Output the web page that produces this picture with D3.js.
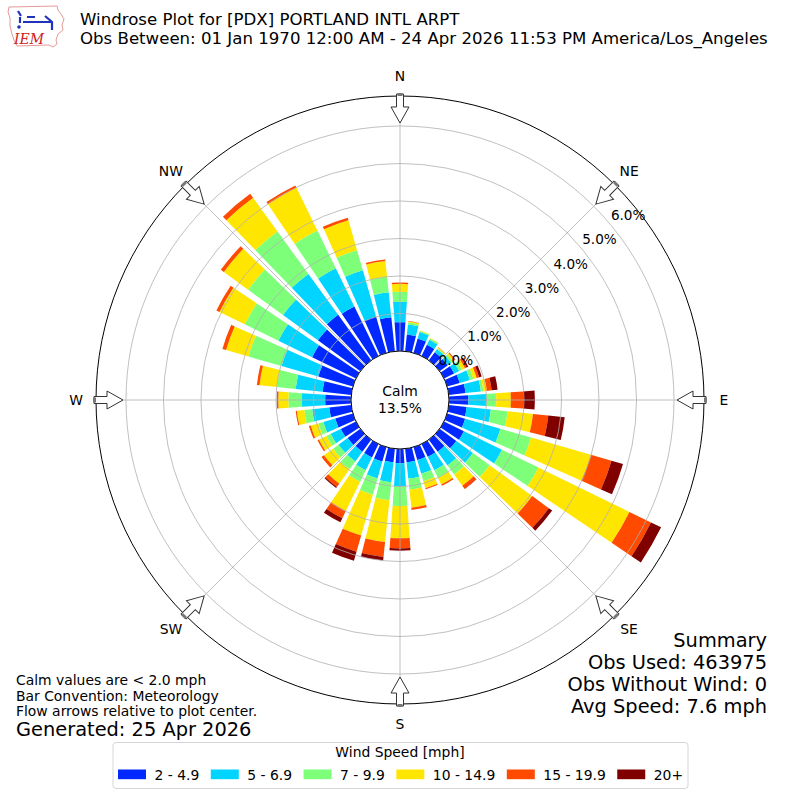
<!DOCTYPE html>
<html>
<head>
<meta charset="utf-8">
<script src="https://cdn.jsdelivr.net/npm/d3@7"></script>
<style>
  body { margin: 0; background: #fff; }
  svg { display: block; font-family: "DejaVu Sans", sans-serif; }
</style>
</head>
<body>
<div id="chart"></div>
<script>
// direction bins (degrees, meteorological: where wind comes from)
const directions = [0, 10, 20, 30, 40, 50, 60, 70, 80, 90, 100, 110, 120, 130, 140, 150, 160, 170,
  180, 190, 200, 210, 220, 230, 240, 250, 260, 270, 280, 290, 300, 310, 320, 330, 340, 350];

const speedBins = ["2 - 4.9", "5 - 6.9", "7 - 9.9", "10 - 14.9", "15 - 19.9", "20+"];
const binColors = ["#0028ff", "#00d4ff", "#7dff7a", "#ffe600", "#ff4a00", "#800000"];

// percent of observations per direction, one array per speed bin
const spd2to5 = [0.77, 0.45, 0.40, 0.33, 0.27, 0.27, 0.30, 0.35, 0.45, 0.52, 0.48, 0.50, 0.59, 0.55, 0.40, 0.38, 0.36, 0.36,
  0.38, 0.36, 0.40, 0.40, 0.40, 0.42, 0.45, 0.49, 0.59, 0.69, 0.77, 0.96, 1.30, 1.40, 1.50, 1.47, 1.01, 0.91];
const spd5to7 = [0.54, 0.27, 0.18, 0.15, 0.10, 0.11, 0.15, 0.28, 0.41, 0.47, 0.65, 0.98, 1.13, 0.55, 0.45, 0.40, 0.38, 0.44,
  0.61, 0.54, 0.47, 0.38, 0.32, 0.30, 0.30, 0.33, 0.46, 0.62, 0.72, 1.02, 1.00, 1.15, 1.35, 1.13, 1.28, 0.67];
const spd7to10 = [0.27, 0.05, 0.03, 0.04, 0.03, 0.06, 0.08, 0.10, 0.07, 0.27, 0.45, 0.85, 1.08, 0.55, 0.30, 0.22, 0.21, 0.30,
  0.53, 0.48, 0.45, 0.34, 0.26, 0.18, 0.13, 0.14, 0.21, 0.36, 0.50, 0.92, 1.00, 1.15, 1.40, 1.12, 0.56, 0.42];
const spd10to15 = [0.21, 0.03, 0.01, 0.01, 0.02, 0.05, 0.09, 0.09, 0.09, 0.39, 0.68, 1.66, 2.70, 1.40, 0.37, 0.20, 0.19, 0.48,
  0.86, 1.12, 1.13, 0.86, 0.47, 0.30, 0.22, 0.21, 0.20, 0.27, 0.47, 0.62, 0.75, 0.80, 1.11, 1.27, 0.83, 0.42];
const spd15to20 = [0.04, 0.01, 0.00, 0.00, 0.01, 0.02, 0.05, 0.07, 0.13, 0.33, 0.41, 0.57, 0.64, 0.55, 0.10, 0.04, 0.03, 0.06,
  0.27, 0.40, 0.45, 0.22, 0.11, 0.08, 0.04, 0.05, 0.03, 0.04, 0.07, 0.10, 0.09, 0.10, 0.13, 0.07, 0.07, 0.04];
const spd20up = [0.00, 0.00, 0.00, 0.00, 0.00, 0.01, 0.05, 0.07, 0.16, 0.31, 0.44, 0.32, 0.30, 0.11, 0.01, 0.00, 0.00, 0.00,
  0.06, 0.10, 0.25, 0.12, 0.03, 0.00, 0.00, 0.00, 0.00, 0.00, 0.00, 0.00, 0.00, 0.00, 0.00, 0.00, 0.00, 0.00];

const ringTicks = [0, 1, 2, 3, 4, 5, 6];
const compass = ["N", "NE", "E", "SE", "S", "SW", "W", "NW"];
const calmPct = 13.5;

const titleLines = [
  "Windrose Plot for [PDX] PORTLAND INTL ARPT",
  "Obs Between: 01 Jan 1970 12:00 AM - 24 Apr 2026 11:53 PM America/Los_Angeles"
];
const noteLines = ["Calm values are < 2.0 mph", "Bar Convention: Meteorology", "Flow arrows relative to plot center."];
const summaryLines = ["Summary", "Obs Used: 463975", "Obs Without Wind: 0", "Avg Speed: 7.6 mph"];

const width = 800, height = 800;
const cx = 400, cy = 400;
const rOuter = 304;
const rad = d => d * Math.PI / 180;

const series = [spd2to5, spd5to7, spd7to10, spd10to15, spd15to20, spd20up];
const rows = directions.map((dir, i) => {
  const o = {dir};
  speedBins.forEach((b, j) => o[b] = series[j][i]);
  return o;
});
const stacked = d3.stack().keys(speedBins)(rows);

const r = d3.scaleLinear().domain([0, 6]).range([49, 274]);
const color = d3.scaleOrdinal().domain(speedBins).range(binColors);
const halfWidth = rad(4);
const arc = d3.arc();

const svg = d3.select("#chart").append("svg")
    .attr("width", width)
    .attr("height", height)
    .attr("viewBox", [0, 0, width, height]);

const g = svg.append("g").attr("transform", `translate(${cx},${cy})`);

// stacked bars
g.append("g")
  .selectAll("g")
  .data(stacked)
  .join("g")
    .attr("fill", d => color(d.key))
  .selectAll("path")
  .data(d => d.filter(s => s[1] - s[0] > 0))
  .join("path")
    .attr("d", s => arc({
      innerRadius: r(s[0]),
      outerRadius: r(s[1]),
      startAngle: rad(s.data.dir) - halfWidth,
      endAngle: rad(s.data.dir) + halfWidth
    }));

// grid on top of bars
g.append("g")
  .selectAll("circle")
  .data(ringTicks)
  .join("circle")
    .attr("r", d => r(d))
    .attr("fill", "none")
    .attr("stroke", "#b0b0b0")
    .attr("stroke-width", 0.8);

g.append("g")
  .selectAll("line")
  .data(compass)
  .join("line")
    .attr("x1", 0).attr("y1", 0)
    .attr("x2", (d, i) => rOuter * Math.sin(rad(i * 45)))
    .attr("y2", (d, i) => -rOuter * Math.cos(rad(i * 45)))
    .attr("stroke", "#b0b0b0")
    .attr("stroke-width", 0.8);

g.append("circle")
    .attr("r", rOuter)
    .attr("fill", "none")
    .attr("stroke", "#000")
    .attr("stroke-width", 1);

// calm circle
g.append("circle")
    .attr("r", r(0))
    .attr("fill", "#fff")
    .attr("stroke", "#000")
    .attr("stroke-width", 1);

g.append("text")
    .attr("text-anchor", "middle")
    .attr("font-size", 13.9)
  .selectAll("tspan")
  .data(["Calm", `${calmPct.toFixed(1)}%`])
  .join("tspan")
    .attr("x", 0)
    .attr("y", (d, i) => -4 + i * 17)
    .text(d => d);

// ring labels
const labelAngle = rad(50);
g.append("g")
    .attr("font-size", 13.6)
  .selectAll("text")
  .data(ringTicks)
  .join("text")
    .attr("x", d => r(d) * Math.sin(labelAngle) + 1)
    .attr("y", d => -r(d) * Math.cos(labelAngle) - 3.5)
    .text(d => `${d.toFixed(1)}%`);

// compass labels
g.append("g")
    .attr("font-size", 13.9)
    .attr("text-anchor", "middle")
  .selectAll("text")
  .data(compass)
  .join("text")
    .attr("x", (d, i) => 324 * Math.sin(rad(i * 45)))
    .attr("y", (d, i) => -324 * Math.cos(rad(i * 45)))
    .attr("dy", "0.36em")
    .text(d => d);

// flow arrows pointing to plot center
const arrows = g.append("g")
  .selectAll("g")
  .data(compass)
  .join("g")
    .attr("transform", (d, i) => `rotate(${i * 45})`);

arrows.append("path")
    .attr("d", "M-3.5,-306L3.5,-306L3.5,-293L9,-293L0,-277L-9,-293L-3.5,-293Z")
    .attr("fill", "#fff")
    .attr("stroke", "#333")
    .attr("stroke-width", 1)
    .attr("stroke-linejoin", "miter");

arrows.append("rect")
    .attr("x", -2.5).attr("y", -307)
    .attr("width", 5).attr("height", 3)
    .attr("fill", "#777");

// header
svg.append("g")
    .attr("font-size", 16.6)
  .selectAll("text")
  .data(titleLines)
  .join("text")
    .attr("x", 80)
    .attr("y", (d, i) => 25 + i * 18.5)
    .text(d => d);

// logo
const logo = svg.append("g");
logo.append("path")
    .attr("d", "M9,7L57,6L58,10L61,14L64,19L62,25L63,30L58,34L56,40L57,44L53,47L49,45L17,46L14,40L12,34L10,26L10,18L8,12Z")
    .attr("fill", "#fff")
    .attr("stroke", "#e59a9a")
    .attr("stroke-width", 1);
logo.append("path")
    .attr("d", "M18,11L21,16M20,17L20,23M23,22L52,22M45,16L52,22L52,30M27,17L35,17")
    .attr("fill", "none")
    .attr("stroke", "#2233bb")
    .attr("stroke-width", 2.2);
logo.append("circle").attr("cx", 19).attr("cy", 27).attr("r", 1.8).attr("fill", "#2233bb");
logo.append("text")
    .attr("x", 14).attr("y", 44)
    .attr("font-family", "'DejaVu Serif', serif")
    .attr("font-style", "italic")
    .attr("font-size", 14)
    .attr("fill", "#d02020")
    .text("IEM");

// notes bottom left
svg.append("g")
    .attr("font-size", 13.9)
  .selectAll("text")
  .data(noteLines)
  .join("text")
    .attr("x", 16)
    .attr("y", (d, i) => 685 + i * 15.5)
    .text(d => d);

svg.append("text")
    .attr("x", 16)
    .attr("y", 736)
    .attr("font-size", 19.4)
    .text("Generated: 25 Apr 2026");

// summary bottom right
svg.append("g")
    .attr("font-size", 19.4)
    .attr("text-anchor", "end")
  .selectAll("text")
  .data(summaryLines)
  .join("text")
    .attr("x", 767)
    .attr("y", (d, i) => 647 + i * 22)
    .text(d => d);

// legend
const legend = svg.append("g").attr("font-size", 13.9);
legend.append("rect")
    .attr("x", 113).attr("y", 742.5)
    .attr("width", 575).attr("height", 46)
    .attr("rx", 3)
    .attr("fill", "#fff")
    .attr("stroke", "#d6d6d6");
legend.append("text")
    .attr("x", 400).attr("y", 757)
    .attr("text-anchor", "middle")
    .text("Wind Speed [mph]");

let lx = 118;
speedBins.forEach(b => {
  legend.append("rect")
      .attr("x", lx).attr("y", 769.5)
      .attr("width", 28).attr("height", 9.7)
      .attr("fill", color(b));
  const t = legend.append("text")
      .attr("x", lx + 36.5).attr("y", 779.5)
      .text(b);
  lx += 36.5 + t.node().getComputedTextLength() + 11.5;
});
</script>
</body>
</html>
